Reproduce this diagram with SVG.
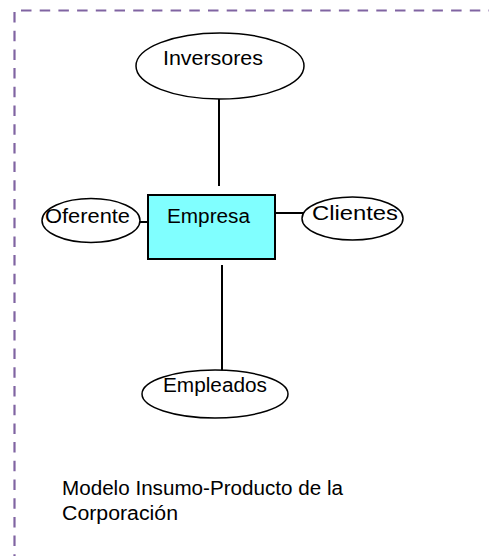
<svg xmlns="http://www.w3.org/2000/svg" width="489" height="556" viewBox="0 0 489 556">
<style>
.lbl{font-family:"Liberation Sans",Arial,sans-serif;font-size:20px;fill:#000;}
.ell{fill:#fff;stroke:#000;stroke-width:1.5;}
.con{stroke:#000;stroke-width:2;fill:none;}
.frame{stroke:#8064A2;stroke-width:2.2;fill:none;stroke-dasharray:10.5 8.2;}
</style>
<rect width="489" height="556" fill="#fff"/>
<g id="frame">
<line class="frame" x1="21" y1="10.5" x2="489" y2="10.5"/>
<line class="frame" x1="14.5" y1="12" x2="14.5" y2="556"/>
</g>
<g id="connectors">
<line class="con" x1="219" y1="99" x2="219" y2="186"/>
<line class="con" x1="222" y1="265" x2="222" y2="371"/>
<line class="con" x1="140" y1="222" x2="148" y2="222"/>
<line class="con" x1="275" y1="213" x2="310" y2="213"/>
</g>
<g id="inversores">
<ellipse class="ell" cx="220" cy="66" rx="84" ry="33"/>
<text class="lbl" x="163" y="65" textLength="100" lengthAdjust="spacingAndGlyphs">Inversores</text>
</g>
<g id="empresa">
<rect x="148" y="195" width="127" height="64" fill="#80FFFF" stroke="#000" stroke-width="2"/>
<text class="lbl" x="167" y="223" textLength="83" lengthAdjust="spacingAndGlyphs">Empresa</text>
</g>
<g id="oferente">
<ellipse class="ell" cx="91" cy="220.5" rx="49" ry="22"/>
<text class="lbl" x="45" y="223" textLength="85" lengthAdjust="spacingAndGlyphs">Oferente</text>
</g>
<g id="clientes">
<ellipse class="ell" cx="352.5" cy="218.5" rx="50.5" ry="21.5"/>
<text class="lbl" x="312" y="220" textLength="86" lengthAdjust="spacingAndGlyphs">Clientes</text>
</g>
<g id="empleados">
<ellipse class="ell" cx="215" cy="394" rx="73" ry="24"/>
<text class="lbl" x="163" y="392" textLength="104" lengthAdjust="spacingAndGlyphs">Empleados</text>
</g>
<g id="caption">
<text class="lbl" x="62" y="495" textLength="281" lengthAdjust="spacingAndGlyphs">Modelo Insumo-Producto de la</text>
<text class="lbl" x="62" y="520" textLength="116" lengthAdjust="spacingAndGlyphs">Corporación</text>
</g>
</svg>
